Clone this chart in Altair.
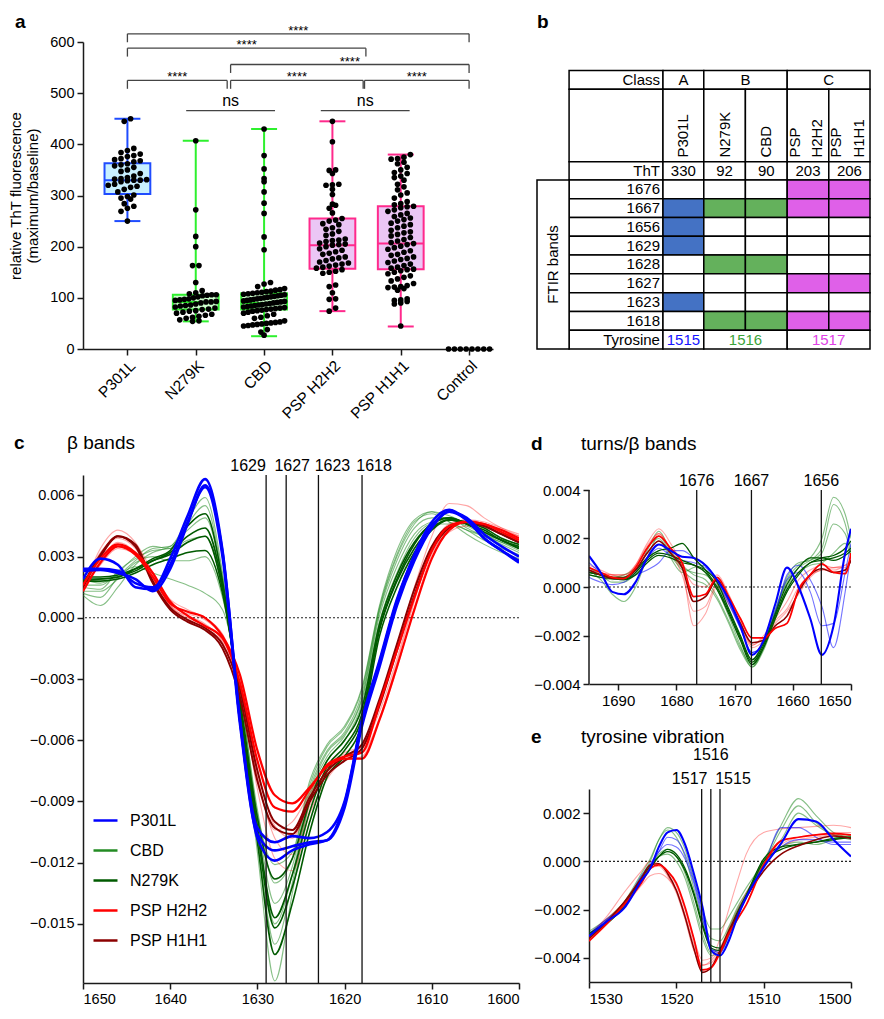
import json
import altair as alt

FONT = "Liberation Sans"
INK = "#1a1a1a"

# ======================= panel a : ThT fluorescence =======================
CATS = ["P301L", "N279K", "CBD", "PSP H2H2", "PSP H1H1", "Control"]
PTS_P301L = [450, 445, 392, 388, 384, 381, 378, 376, 372, 370, 368, 366, 362, 360, 358, 355, 350, 347,
             343, 338, 335, 333, 332, 331, 330, 330, 329, 327, 322, 320, 318, 316, 312, 307, 301, 298,
             295, 293, 284, 279, 275, 269, 250]
PTS_N279K = [407, 272, 220, 200, 163, 163, 130, 114, 110, 108, 106, 106, 105, 104, 102, 100, 98, 97, 96,
             95, 93, 92, 92, 90, 88, 86, 85, 84, 82, 80, 78, 77, 75, 74, 72, 70, 68, 66, 64, 62, 60, 57,
             55, 54]
PTS_CBD = [430, 378, 352, 333, 327, 307, 285, 265, 219, 194, 130, 127, 122, 118, 116, 115, 113, 112, 111,
           110, 109, 108, 107, 106, 105, 104, 103, 102, 101, 100, 99, 98, 97, 96, 95, 94, 93, 92, 91, 90,
           89, 88, 87, 86, 85, 84, 83, 82, 81, 80, 79, 78, 77, 76, 75, 74, 72, 70, 68, 65, 62, 60, 55,
           53, 52, 51, 50, 49, 48, 47, 46, 45, 38, 33, 27]
PTS_H2H2 = [445, 405, 350, 349, 343, 322, 321, 320, 312, 302, 283, 281, 275, 266, 255, 252, 250, 245, 243,
            237, 234, 230, 225, 222, 215, 213, 212, 210, 207, 205, 204, 203, 200, 196, 193, 190, 187, 185,
            180, 178, 176, 173, 170, 168, 166, 164, 162, 160, 158, 155, 152, 150, 148, 125, 122, 110, 98,
            97, 80, 74]
PTS_H1H1 = [380, 375, 372, 371, 365, 362, 355, 350, 345, 343, 338, 335, 330, 322, 317, 311, 305, 301, 295,
            288, 284, 282, 279, 278, 276, 272, 269, 265, 262, 259, 256, 253, 250, 246, 243, 240, 237, 232,
            229, 227, 224, 221, 218, 214, 211, 208, 206, 204, 201, 198, 195, 192, 189, 185, 183, 180, 177,
            175, 172, 169, 166, 163, 160, 158, 156, 155, 153, 150, 147, 143, 140, 137, 133, 128, 124, 122,
            121, 120, 118, 115, 98, 96, 95, 93, 90, 88, 45]
PTS_CONTROL = [0, 0, 0, 0, 0, 0, 0, 0]

BOX_MIN = [250, 54, 25, 74, 44]
BOX_Q1 = [303, 77, 77, 157, 156]
BOX_MED = [330, 92, 90, 203, 206]
BOX_Q3 = [363, 106, 109, 255, 279]
BOX_MAX = [450, 407, 430, 445, 380]
BOX_STROKE = ["#1f4cff", "#2ef02e", "#2ef02e", "#ff2a8c", "#ff2a8c"]
BOX_FILL = ["#c8f0ff", "#ccffcc", "#ccffcc", "#ebc6f5", "#ebc6f5"]

BR_FROM = [0, 0, 1.51, 0, 1.51, 3.47]
BR_TO = [5, 3.49, 5, 1.46, 3.45, 5]
BR_LEVEL = [616, 588, 556, 525, 525, 525]
BR_TEXT = ["****", "****", "****", "****", "****", "****"]
NS_FROM = [0.86, 2.83]
NS_TO = [2.16, 4.13]
NS_LEVEL = [466, 466]

# ======================= panel b : table =======================
TBL_COL_W = [32.7, 95.7, 41.6, 42.4, 42.6, 42.4, 42.0]
TBL_ROW_H = [1.0, 3.86, 0.965, 1, 1, 1, 1, 1, 1, 1, 1, 1]
TBL_SAMPLES = [["P301L"], ["N279K"], ["CBD"], ["PSP", "H2H2"], ["PSP", "H1H1"]]
TBL_CLASSES = ["A", "B", "C"]
TBL_SAMPLE_CLASS = [0, 1, 1, 2, 2]
TBL_THT = ["330", "92", "90", "203", "206"]
TBL_BANDS = ["1676", "1667", "1656", "1629", "1628", "1627", "1623", "1618"]
TBL_MARKS = [  # one list per sample, one flag per FTIR band
    [0, 1, 1, 1, 0, 0, 1, 0],
    [0, 1, 0, 0, 1, 0, 0, 1],
    [0, 1, 0, 0, 1, 0, 0, 1],
    [1, 1, 0, 0, 0, 1, 0, 1],
    [1, 1, 0, 0, 0, 1, 0, 1],
]
TBL_TYROSINE = ["1515", "1516", "1517"]
CLASS_FILL = ["#4472c4", "#64b15c", "#df60e8"]
TYR_COLOR = ["#1414ff", "#3aa33a", "#e040e6"]

# ======================= panel c : beta bands (x 1e-3) =======================
XC = list(range(1650, 1599, -2))
C_P301L_1 = [1.9, 2.9, 2.6, 1.5, 1.4, 2.9, 5.0, 6.8, 3.3, -5.0, -10.3, -11.0, -10.7, -10.8, -10.5, -9.0, -5.0, -2.1, 0.9, 3.0, 4.5, 5.2, 4.8, 3.9, 3.3, 2.8]
C_P301L_2 = [2.4, 2.4, 2.3, 1.7, 1.5, 2.6, 4.7, 6.4, 3.0, -5.2, -10.6, -11.4, -11.2, -11.0, -10.9, -9.3, -5.3, -2.4, 0.6, 2.8, 4.4, 5.2, 4.9, 4.1, 3.5, 3.0]
C_P301L_3 = [2.3, 2.35, 2.2, 1.9, 1.3, 2.4, 4.6, 6.5, 3.2, -5.0, -10.8, -11.9, -11.4, -11.1, -10.9, -9.1, -5.1, -2.2, 0.8, 3.1, 4.7, 5.3, 4.8, 3.9, 3.3, 2.7]
C_N279K_1 = [1.9, 1.9, 2.0, 2.4, 2.9, 3.3, 4.5, 5.1, 1.8, -4.5, -11.0, -16.5, -14.0, -10.5, -7.8, -6.8, -5.2, -0.9, 1.5, 3.2, 4.3, 4.8, 4.7, 4.4, 3.9, 3.6]
C_N279K_2 = [1.8, 1.9, 2.0, 2.3, 2.8, 3.2, 4.0, 4.4, 1.6, -4.3, -10.5, -15.2, -13.2, -10.0, -7.5, -6.5, -4.9, -0.6, 1.8, 3.4, 4.4, 4.8, 4.6, 4.3, 3.8, 3.5]
C_N279K_3 = [2.0, 2.0, 2.1, 2.4, 2.8, 3.1, 3.7, 4.0, 1.4, -4.2, -10.2, -14.7, -12.6, -9.5, -7.3, -6.3, -4.7, -0.5, 1.9, 3.6, 4.6, 4.9, 4.6, 4.2, 3.8, 3.4]
C_N279K_4 = [1.8, 1.8, 1.9, 2.2, 2.6, 2.9, 3.2, 3.3, 1.2, -4.0, -9.8, -12.8, -11.8, -9.0, -7.0, -6.0, -4.4, -0.3, 2.1, 3.7, 4.6, 4.9, 4.6, 4.2, 3.8, 3.4]
C_CBD_1 = [1.2, 1.0, 2.0, 2.8, 3.4, 3.5, 4.8, 5.9, 2.2, -4.6, -11.5, -17.8, -13.5, -9.0, -7.0, -6.0, -4.2, -0.2, 2.2, 3.9, 4.6, 4.6, 4.3, 4.0, 3.7, 3.4]
C_CBD_2 = [1.5, 1.4, 2.3, 2.9, 3.3, 3.4, 4.6, 5.5, 2.0, -4.4, -10.8, -16.0, -13.0, -8.8, -6.8, -5.8, -4.0, 0.1, 2.5, 4.1, 4.7, 4.8, 4.5, 4.1, 3.8, 3.5]
C_CBD_3 = [1.1, 0.6, 1.5, 2.6, 3.2, 3.5, 4.3, 4.9, 1.8, -4.2, -10.2, -15.0, -12.6, -8.6, -6.6, -5.7, -3.9, 0.3, 2.8, 4.4, 4.9, 4.9, 4.4, 4.0, 3.6, 3.2]
C_CBD_4 = [1.6, 1.6, 2.2, 3.0, 3.5, 3.4, 3.8, 4.0, 1.4, -4.0, -9.8, -14.0, -12.2, -8.4, -6.5, -5.6, -3.7, 0.4, 3.0, 4.6, 5.2, 5.0, 4.6, 4.1, 3.7, 3.3]
C_CBD_5 = [1.3, 1.3, 1.9, 2.7, 3.0, 2.8, 2.8, 3.0, 1.0, -3.6, -9.4, -13.0, -11.8, -8.2, -6.3, -5.4, -3.5, 0.5, 3.1, 4.7, 5.1, 4.7, 4.3, 3.8, 3.4, 3.1]
C_CBD_6 = [1.9, 1.7, 2.1, 2.5, 2.2, 1.9, 1.6, 1.2, 0.4, -3.5, -9.6, -12.1, -11.5, -8.0, -6.2, -5.3, -3.4, 0.6, 3.3, 4.8, 5.2, 4.7, 4.1, 3.6, 3.2, 2.9]
C_H2H2_1 = [1.3, 2.7, 3.5, 3.1, 2.0, 0.7, 0.3, 0.0, -0.9, -2.8, -6.5, -8.7, -9.1, -8.3, -7.3, -6.9, -6.9, -5.0, -2.4, 0.4, 2.9, 4.3, 4.7, 4.6, 4.3, 3.9]
C_H2H2_2 = [1.6, 2.9, 3.6, 3.2, 2.2, 0.8, 0.1, -0.4, -1.0, -3.2, -7.0, -9.3, -9.5, -8.4, -7.2, -6.8, -6.6, -4.2, -1.6, 1.0, 3.3, 4.5, 4.7, 4.6, 4.2, 3.8]
C_H1H1_1 = [1.5, 3.0, 4.0, 3.6, 1.8, 0.5, -0.1, -0.5, -1.3, -3.5, -7.5, -10.0, -10.4, -8.8, -7.5, -6.8, -6.2, -4.0, -1.3, 1.4, 3.5, 4.5, 4.7, 4.5, 4.1, 3.7]
C_H1H1_2 = [1.6, 3.1, 4.0, 3.5, 1.7, 0.4, -0.2, -0.6, -1.5, -3.9, -8.0, -10.3, -10.6, -9.0, -7.7, -7.0, -6.4, -4.3, -1.6, 1.1, 3.3, 4.4, 4.7, 4.5, 4.1, 3.7]
C_H2H2_R1 = [1.4, 3.4, 4.3, 3.7, 2.2, 0.6, 0.2, -0.1, -1.0, -3.3, -7.8, -10.8, -11.6, -9.2, -7.6, -6.8, -6.4, -4.4, -1.5, 1.5, 4.0, 5.6, 5.5, 4.9, 4.4, 4.0]
C_H2H2_R2 = [1.5, 2.6, 3.4, 3.1, 2.1, 0.9, 0.4, 0.0, -0.8, -3.0, -7.4, -10.2, -10.8, -8.9, -7.4, -6.7, -6.6, -4.9, -2.2, 0.8, 3.4, 4.6, 4.8, 4.6, 4.3, 4.0]
C_H2H2_R3 = [1.3, 2.8, 3.7, 3.2, 1.9, 0.5, 0.1, -0.3, -1.2, -3.6, -8.4, -11.8, -12.4, -9.6, -7.9, -7.0, -6.8, -5.0, -2.5, 0.5, 3.1, 4.4, 4.8, 4.7, 4.4, 4.1]
C_H2H2_R4 = [1.6, 3.2, 3.9, 3.4, 2.0, 0.6, 0.0, -0.4, -1.1, -3.4, -7.9, -10.4, -10.0, -8.6, -7.3, -6.6, -6.3, -4.6, -2.0, 0.9, 3.2, 4.2, 4.5, 4.5, 4.2, 3.9]

# ======================= panel d : turns / beta (x 1e-3) =======================
XD = [1695, 1693, 1691, 1689, 1687, 1685, 1683, 1681, 1679, 1677, 1675, 1673, 1671, 1669, 1667, 1665,
      1663, 1661, 1659, 1657, 1655, 1653, 1651, 1650]
D_P301L_1 = [1.28, 0.6, -0.2, -0.3, 0.2, 1.2, 1.75, 1.5, 1.25, 1.2, 0.9, 0.3, -0.5, -1.6, -2.8, -2.2, -0.7, 0.8, 0.0, -1.3, -2.8, -1.6, 1.4, 2.4]
D_P301L_2 = [1.0, 0.6, 0.35, 0.3, 0.5, 0.7, 1.0, 1.5, 1.5, 1.2, 0.9, 0.3, -0.6, -1.7, -2.7, -2.3, -1.0, 0.3, 0.6, -0.2, -1.6, -1.5, 0.6, 1.8]
D_P301L_3 = [0.4, 0.2, 0.1, 0.2, 0.6, 1.2, 1.6, 1.3, 1.1, 1.0, 0.8, 0.2, -0.7, -1.7, -2.7, -2.3, -1.1, 0.5, 0.9, 0.3, -0.8, -2.5, -0.2, 1.4]
D_N279K_1 = [0.6, 0.5, 0.4, 0.4, 0.7, 1.2, 1.5, 1.6, 1.8, 1.2, 0.7, 0.0, -1.0, -2.1, -3.1, -2.4, -1.2, -0.1, 0.6, 1.0, 1.2, 1.3, 1.6, 1.9]
D_N279K_2 = [0.5, 0.4, 0.35, 0.3, 0.6, 1.1, 1.4, 1.3, 1.1, 0.9, 0.6, -0.1, -1.1, -2.2, -3.2, -2.5, -1.3, -0.2, 0.5, 1.0, 1.1, 1.2, 1.4, 1.6]
D_N279K_3 = [0.6, 0.5, 0.4, 0.3, 0.5, 1.0, 1.3, 1.2, 1.0, 0.9, 0.7, 0.2, -0.9, -2.0, -3.0, -2.3, -1.1, 0.1, 0.8, 1.2, 1.2, 1.1, 1.3, 1.5]
D_CBD_1 = [0.7, 0.3, -0.3, -0.6, 0.0, 1.2, 2.1, 1.4, 0.8, 0.6, 0.5, -0.1, -1.2, -2.4, -3.3, -2.5, -1.1, 0.3, 0.9, 1.2, 2.0, 3.7, 3.0, 2.0]
D_CBD_2 = [0.8, 0.5, 0.2, 0.2, 0.6, 1.5, 2.3, 1.5, 0.9, 0.5, 0.3, -0.4, -1.4, -2.5, -3.2, -2.4, -1.0, 0.2, 0.8, 1.1, 1.6, 3.4, 2.6, 1.5]
D_CBD_3 = [0.5, 0.4, 0.3, 0.4, 0.7, 1.4, 1.9, 1.2, 0.6, 0.8, 0.9, 0.1, -1.0, -2.1, -3.0, -2.2, -0.9, 0.4, 1.0, 1.1, 1.4, 2.6, 2.2, 1.3]
D_CBD_4 = [0.6, 0.5, 0.4, 0.5, 0.8, 1.6, 2.0, 1.3, 0.7, 0.3, 0.1, -0.5, -1.5, -2.6, -3.3, -2.6, -1.3, 0.0, 0.6, 0.9, 1.0, 1.4, 1.8, 1.2]
D_H2H2_1 = [0.8, 0.6, 0.4, 0.35, 0.8, 1.6, 2.1, 1.6, 1.0, -0.4, -0.3, 0.4, -0.4, -1.3, -2.1, -2.1, -1.7, -1.5, -0.1, 0.5, 0.95, 0.6, 0.55, 1.4]
D_H1H1_1 = [0.7, 0.5, 0.35, 0.35, 0.7, 1.4, 1.9, 1.4, 0.8, -0.6, -0.4, 0.3, -0.5, -1.5, -2.3, -2.2, -1.6, -1.2, -0.2, 0.5, 0.75, 0.6, 0.7, 1.1]
D_H2H2_R1 = [0.9, 0.7, 0.5, 0.4, 0.9, 1.8, 2.4, 1.8, 0.8, -1.6, -1.1, 0.0, -0.7, -1.6, -2.5, -2.2, -1.4, -0.9, 0.0, 0.5, 0.7, 0.8, 0.9, 1.0]
D_H2H2_R2 = [0.7, 0.6, 0.5, 0.5, 0.9, 1.7, 2.2, 1.5, 0.5, -1.0, -0.8, 0.1, -0.6, -1.5, -2.4, -2.1, -1.5, -1.0, -0.3, 0.4, 0.7, 0.7, 0.9, 1.1]
D_H2H2_R3 = [0.8, 0.6, 0.5, 0.5, 0.8, 1.6, 2.2, 1.6, 0.9, 0.1, 0.0, 0.5, -0.3, -1.4, -2.4, -2.0, -1.3, -0.6, 0.3, 0.7, 0.9, 0.8, 0.8, 1.2]

# ======================= panel e : tyrosine (x 1e-3) =======================
XE = [1530, 1528, 1526, 1524, 1523, 1522, 1521, 1520, 1519, 1518, 1517, 1516, 1515, 1514, 1513, 1512,
      1510, 1508, 1506, 1504, 1502, 1500]
E_P301L_1 = [-3.1, -2.5, -1.95, -0.8, -0.3, 0.6, 1.2, 1.3, 0.7, -0.5, -1.9, -3.7, -3.9, -3.3, -2.3, -1.5, -0.25, 0.75, 1.75, 1.65, 0.9, 0.2]
E_P301L_2 = [-3.0, -2.5, -1.9, -0.7, -0.2, 0.4, 1.0, 0.9, 0.3, -0.8, -2.2, -3.6, -3.8, -3.1, -2.2, -1.5, -0.2, 1.4, 1.4, 1.0, 0.7, 0.7]
E_P301L_3 = [-3.0, -2.4, -1.8, -0.6, -0.1, 0.4, 0.7, 0.6, 0.1, -0.9, -2.4, -3.7, -3.7, -3.0, -2.1, -1.4, -0.2, 0.6, 0.9, 0.9, 0.8, 0.8]
E_N279K_1 = [-3.1, -2.6, -1.9, -0.8, -0.3, 0.2, 0.5, 0.3, -0.3, -1.3, -2.6, -3.5, -3.6, -2.9, -2.1, -1.4, 0.1, 0.6, 0.7, 0.8, 0.95, 1.0]
E_N279K_2 = [-3.0, -2.5, -1.8, -0.7, -0.2, 0.2, 0.4, 0.2, -0.4, -1.4, -2.7, -3.6, -3.7, -3.0, -2.2, -1.5, 0.0, 0.5, 0.7, 0.8, 0.9, 1.0]
E_CBD_1 = [-3.2, -2.6, -1.8, -0.6, 0.0, 0.9, 1.4, 1.2, 0.5, -0.7, -2.0, -2.8, -2.8, -2.3, -1.7, -1.1, 0.0, 1.5, 2.6, 1.9, 1.2, 1.0]
E_CBD_2 = [-3.1, -2.5, -1.7, -0.5, 0.1, 0.9, 1.3, 1.0, 0.2, -1.1, -2.4, -3.2, -3.3, -2.7, -1.9, -1.3, -0.1, 1.3, 2.3, 1.6, 1.1, 0.9]
E_CBD_3 = [-2.9, -2.4, -1.7, -0.7, -0.2, 0.3, 0.5, 0.2, -0.5, -1.7, -3.0, -3.8, -3.6, -2.8, -2.0, -1.4, 0.1, 0.9, 2.0, 1.5, 1.1, 1.0]
E_CBD_4 = [-3.0, -2.5, -1.8, -0.8, -0.3, 0.2, 0.3, 0.0, -0.7, -1.9, -3.2, -3.9, -3.8, -3.1, -2.3, -1.5, -0.1, 0.6, 0.8, 0.7, 0.9, 1.1]
E_H2H2_1 = [-3.3, -2.6, -1.8, -0.9, -0.3, -0.15, -0.4, -0.9, -1.9, -3.2, -4.5, -4.4, -3.8, -3.0, -2.4, -1.8, -0.15, 0.85, 1.0, 1.1, 1.15, 1.1]
E_H1H1_1 = [-3.2, -2.5, -1.7, -0.7, -0.15, -0.1, -0.5, -1.2, -2.3, -3.6, -4.6, -4.4, -3.7, -2.9, -2.2, -1.5, -0.4, 0.3, 0.65, 0.9, 1.05, 0.95]
E_H2H2_R1 = [-3.1, -2.3, -1.3, -0.4, 0.0, -0.1, -0.4, -1.0, -2.0, -3.2, -4.1, -4.0, -3.2, -2.0, -0.8, 0.3, 1.2, 1.35, 1.4, 1.45, 1.5, 1.4]
E_H2H2_R2 = [-3.2, -2.6, -1.9, -1.0, -0.6, -0.5, -0.7, -1.2, -2.2, -3.4, -4.3, -4.2, -3.7, -2.9, -2.1, -1.4, 0.0, 0.6, 0.9, 1.0, 1.1, 1.1]
E_H2H2_R3 = [-3.0, -2.4, -1.7, -0.7, -0.3, -0.2, -0.6, -1.3, -2.4, -3.7, -4.3, -4.1, -3.6, -2.8, -2.0, -1.3, -0.1, 0.7, 1.0, 1.1, 1.2, 1.2]

LEG_NAMES = ["P301L", "CBD", "N279K", "PSP H2H2", "PSP H1H1"]
LEG_COLORS = ["#0000ff", "#238b23", "#005a00", "#ff0000", "#8b0000"]

# ======================= layout / style constants =======================
A_W, A_H = 410, 307
B_W = 333
C_W, C_H = 436, 508
D_W, D_EXTRA, D_CORE = 262, 15, 194
E_H = 193
ROW_GAP = 12          # full-bounds gap between the two rows
TOP_PAD = 5
XA_DOM = [-0.65, 5.35]
DOT_PX = 6.4
BOX_HALF, CAP_HALF = 0.335, 0.19
ROT_LINE_DX = [[0.0], [-13.5, 9.5]]   # x offset (table units) of rotated header lines


def swarm(vals, center):
    step = DOT_PX / (A_W / (XA_DOM[1] - XA_DOM[0]))
    bin_units = DOT_PX / (A_H / 600.0)
    bins = {}
    for v in sorted(vals):
        bins.setdefault(round(v / bin_units), []).append(v)
    out = []
    for vs in bins.values():
        k = len(vs)
        st = step if k < 2 else min(step, 0.6 / (k - 1))
        for j, v in enumerate(vs):
            out.append({"x": center + (j - (k - 1) / 2.0) * st, "y": v})
    return out


def letter_layer(txt, x, y, size=19, weight="bold"):
    return alt.Chart(alt.Data(values=[{"t": txt}])).mark_text(
        align="left", baseline="alphabetic", fontSize=size, fontWeight=weight
    ).encode(x=alt.value(x), y=alt.value(y), text="t:N")


# ----------------------------- panel a -----------------------------
xa_scale = alt.Scale(domain=XA_DOM, nice=False, zero=False)
ya_scale = alt.Scale(domain=[0, 600], nice=False, zero=False)
xa_axis = alt.Axis(values=list(range(6)), labelExpr=json.dumps(CATS) + "[datum.value]", labelAngle=315,
                   labelFontSize=15.5, tickSize=6, title=None, grid=False, labelPadding=3)
ya_axis = alt.Axis(values=list(range(0, 601, 100)), title=["relative ThT fluorescence", "(maximum/baseline)"],
                   titleFontSize=15, titleFontWeight="normal", titlePadding=9, labelFontSize=14.5,
                   tickSize=6, grid=False, labelPadding=3)


def XA(f):
    return alt.X(f + ":Q", scale=xa_scale, axis=xa_axis)


def YA(f):
    return alt.Y(f + ":Q", scale=ya_scale, axis=ya_axis)


box_rows = []
cap_rows = []
for i in range(5):
    box_rows.append({"x": i, "bx1": i - BOX_HALF, "bx2": i + BOX_HALF, "mn": BOX_MIN[i], "q1": BOX_Q1[i],
                     "med": BOX_MED[i], "q3": BOX_Q3[i], "mx": BOX_MAX[i], "stroke": BOX_STROKE[i],
                     "fill": BOX_FILL[i]})
    for v in (BOX_MIN[i], BOX_MAX[i]):
        cap_rows.append({"x1": i - CAP_HALF, "x2": i + CAP_HALF, "y": v, "stroke": BOX_STROKE[i]})
dot_rows = []
for i, vals in enumerate([PTS_P301L, PTS_N279K, PTS_CBD, PTS_H2H2, PTS_H1H1, PTS_CONTROL]):
    dot_rows += swarm(vals, i)
br_rows, drop_rows = [], []
for a, b, lv, t in zip(BR_FROM, BR_TO, BR_LEVEL, BR_TEXT):
    br_rows.append({"x1": a, "x2": b, "xm": (a + b) / 2.0, "lv": lv, "t": t})
    for e in (a, b):
        drop_rows.append({"x": e, "lv": lv, "lo": lv - 16.5})
ns_rows = [{"x1": a, "x2": b, "xm": (a + b) / 2.0, "lv": lv, "t": "ns"}
           for a, b, lv in zip(NS_FROM, NS_TO, NS_LEVEL)]

bstroke = alt.Color("stroke:N", scale=None)
panel_a = alt.layer(
    alt.Chart(alt.Data(values=box_rows)).mark_rule(strokeWidth=2).encode(x=XA("x"), y=YA("mn"), y2="mx", color=bstroke),
    alt.Chart(alt.Data(values=cap_rows)).mark_rule(strokeWidth=2).encode(x=XA("x1"), x2="x2", y=YA("y"), color=bstroke),
    alt.Chart(alt.Data(values=box_rows)).mark_rect(strokeWidth=2).encode(
        x=XA("bx1"), x2="bx2", y=YA("q1"), y2="q3", fill=alt.Fill("fill:N", scale=None),
        stroke=alt.Stroke("stroke:N", scale=None)),
    alt.Chart(alt.Data(values=box_rows)).mark_rule(strokeWidth=2).encode(x=XA("bx1"), x2="bx2", y=YA("med"), color=bstroke),
    alt.Chart(alt.Data(values=dot_rows)).mark_circle(size=32, color="black", opacity=1).encode(x=XA("x"), y=YA("y")),
    alt.Chart(alt.Data(values=br_rows)).mark_rule(color="#444444", strokeWidth=1.3).encode(x=XA("x1"), x2="x2", y=YA("lv")),
    alt.Chart(alt.Data(values=drop_rows)).mark_rule(color="#444444", strokeWidth=1.3).encode(x=XA("x"), y=YA("lv"), y2="lo"),
    alt.Chart(alt.Data(values=br_rows)).mark_text(fontSize=13, baseline="alphabetic", dy=1).encode(
        x=XA("xm"), y=YA("lv"), text="t:N"),
    alt.Chart(alt.Data(values=ns_rows)).mark_rule(color="#444444", strokeWidth=1.3).encode(x=XA("x1"), x2="x2", y=YA("lv")),
    alt.Chart(alt.Data(values=ns_rows)).mark_text(fontSize=16, baseline="alphabetic", dy=-5).encode(
        x=XA("xm"), y=YA("lv"), text="t:N"),
    letter_layer("a", -68, -14),
).properties(width=A_W, height=A_H)

# ----------------------------- panel b -----------------------------
CX = [0.0]
for w in TBL_COL_W:
    CX.append(CX[-1] + w)
RY = [0.0]
for h in TBL_ROW_H:
    RY.append(RY[-1] + h)
px_unit = A_H * (281.3 / 310.0) / RY[-1]
TOP_OFF = A_H / px_unit - RY[-1]
xb_scale = alt.Scale(domain=[0, CX[-1]], nice=False, zero=False)
yb_scale = alt.Scale(domain=[-TOP_OFF, RY[-1]], nice=False, zero=False, reverse=True)


def XB(f):
    return alt.X(f + ":Q", scale=xb_scale, axis=None)


def YB(f):
    return alt.Y(f + ":Q", scale=yb_scale, axis=None)


def cell(c0, c1, r0, r1, fill="white"):
    return {"x1": CX[c0], "x2": CX[c1], "y1": RY[r0], "y2": RY[r1], "fill": fill}


def mid_r(r):
    return (RY[r] + RY[r + 1]) / 2.0


def mid_c(c0, c1):
    return (CX[c0] + CX[c1]) / 2.0


class_span = {}
for j, k in enumerate(TBL_SAMPLE_CLASS):
    lo, hi = class_span.get(k, (j, j))
    class_span[k] = (min(lo, j), max(hi, j))

cells, right_txt, center_txt, rot_txt = [], [], [], []
cells.append(cell(1, 2, 0, 1))
right_txt.append({"x": CX[2], "y": mid_r(0), "t": "Class"})
for k, (lo, hi) in class_span.items():
    cells.append(cell(2 + lo, 3 + hi, 0, 1))
    center_txt.append({"x": mid_c(2 + lo, 3 + hi), "y": mid_r(0), "t": TBL_CLASSES[k], "c": "black"})
cells.append(cell(1, 2, 1, 2))
cells.append(cell(1, 2, 2, 3))
right_txt.append({"x": CX[2], "y": mid_r(2), "t": "ThT"})
for j, name_lines in enumerate(TBL_SAMPLES):
    cells.append(cell(2 + j, 3 + j, 1, 2))
    for ln, dx in zip(name_lines, ROT_LINE_DX[len(name_lines) - 1]):
        rot_txt.append({"x": mid_c(2 + j, 3 + j) + dx, "y": RY[2] - 0.22, "t": ln})
    cells.append(cell(2 + j, 3 + j, 2, 3))
    center_txt.append({"x": mid_c(2 + j, 3 + j), "y": mid_r(2), "t": TBL_THT[j], "c": "black"})
for bi, band in enumerate(TBL_BANDS):
    r = 3 + bi
    cells.append(cell(1, 2, r, r + 1))
    right_txt.append({"x": CX[2], "y": mid_r(r), "t": band})
    for j in range(5):
        fill = CLASS_FILL[TBL_SAMPLE_CLASS[j]] if TBL_MARKS[j][bi] else "white"
        cells.append(cell(2 + j, 3 + j, r, r + 1, fill))
rt = 3 + len(TBL_BANDS)
cells.append(cell(1, 2, rt, rt + 1))
right_txt.append({"x": CX[2], "y": mid_r(rt), "t": "Tyrosine"})
for k, (lo, hi) in class_span.items():
    cells.append(cell(2 + lo, 3 + hi, rt, rt + 1))
    center_txt.append({"x": mid_c(2 + lo, 3 + hi), "y": mid_r(rt), "t": TBL_TYROSINE[k], "c": TYR_COLOR[k]})
cells.append(cell(0, 1, 3, rt + 1))
ftir_txt = [{"x": mid_c(0, 1), "y": (RY[3] + RY[rt + 1]) / 2.0, "t": "FTIR bands"}]

panel_b = alt.layer(
    alt.Chart(alt.Data(values=cells)).mark_rect(stroke="black", strokeWidth=1.5).encode(
        x=XB("x1"), x2="x2", y=YB("y1"), y2="y2", fill=alt.Fill("fill:N", scale=None)),
    alt.Chart(alt.Data(values=right_txt)).mark_text(align="right", baseline="middle", dx=-3, fontSize=15).encode(
        x=XB("x"), y=YB("y"), text="t:N"),
    alt.Chart(alt.Data(values=center_txt)).mark_text(align="center", baseline="middle", fontSize=15).encode(
        x=XB("x"), y=YB("y"), text="t:N", color=alt.Color("c:N", scale=None)),
    alt.Chart(alt.Data(values=rot_txt)).mark_text(angle=270, align="left", baseline="middle", fontSize=15).encode(
        x=XB("x"), y=YB("y"), text="t:N"),
    alt.Chart(alt.Data(values=ftir_txt)).mark_text(angle=270, align="center", baseline="middle", fontSize=15).encode(
        x=XB("x"), y=YB("y"), text="t:N"),
    letter_layer("b", 0, -14),
).properties(width=B_W, height=A_H)

# ----------------------------- spectra -----------------------------
THICK_W = {"P301L": 2.6, "N279K": 1.6, "CBD": 1.6, "PSP H2H2": 2.2, "PSP H1H1": 2.0}
THIN_W = 1.1
THIN_OP = {"P301L": 0.55, "N279K": 0.5, "CBD": 0.55, "PSP H2H2": 0.35, "PSP H1H1": 0.4}


def spectral_panel(xgrid, curves, xdom, ydom, vrange, xticks, yticks, W, H, vlines, vlabels, lab_dx, lab_y,
                   title, letter, head_x, head_y, fs, width_scale=1.0, legend=None, manual_axis=None):
    xs = alt.Scale(domain=xdom, reverse=True, nice=False, zero=False)
    ys = alt.Scale(domain=ydom, nice=False, zero=False)
    xax = alt.Axis(values=xticks, format="d", labelFontSize=fs, tickSize=6, title=None, grid=False,
                   labelPadding=3)
    yax = alt.Axis(values=yticks, format=".3f", labelFontSize=fs, tickSize=6, title=None, grid=False,
                   labelPadding=3, domain=manual_axis is None)

    def X(f):
        return alt.X(f + ":Q", scale=xs, axis=xax)

    def Y(f):
        return alt.Y(f + ":Q", scale=ys, axis=yax)

    thick, thin = [], []
    for cid, (series, kind, vals) in enumerate(curves):
        for wn, v in zip(xgrid, vals):
            row = {"wn": wn, "v": v * 1e-3, "cid": cid, "series": series}
            if kind == "thick":
                row["w"] = THICK_W[series] * width_scale
                row["op"] = 1.0
                thick.append(row)
            else:
                row["w"] = THIN_W
                row["op"] = THIN_OP[series]
                thin.append(row)
    color = alt.Color("series:N", scale=alt.Scale(domain=LEG_NAMES, range=LEG_COLORS), legend=legend)

    def lines(rows):
        return alt.Chart(alt.Data(values=rows)).mark_line(interpolate="monotone", clip=True).encode(
            x=X("wn"), y=Y("v"), detail="cid:N", color=color,
            strokeWidth=alt.StrokeWidth("w:Q", scale=None), opacity=alt.Opacity("op:Q", scale=None))

    layers = [
        alt.Chart(alt.Data(values=[{"z": 0}])).mark_rule(strokeDash=[2, 2], color="#222222", strokeWidth=1.1).encode(y=Y("z")),
        lines(thin),
        lines(thick),
        alt.Chart(alt.Data(values=[{"p": p, "lo": vrange[0], "hi": vrange[1]} for p in vlines])).mark_rule(
            color="#111111", strokeWidth=1.3).encode(x=X("p"), y=Y("lo"), y2="hi"),
    ]
    if manual_axis is not None:
        layers.append(alt.Chart(alt.Data(values=[{"p": manual_axis[0], "lo": manual_axis[1], "hi": manual_axis[2]}])).mark_rule(
            color=INK, strokeWidth=1.5).encode(x=X("p"), y=Y("lo"), y2="hi"))
    for p, t, dx, yy in zip(vlines, vlabels, lab_dx, lab_y):
        layers.append(alt.Chart(alt.Data(values=[{"p": p, "t": t}])).mark_text(
            fontSize=16, baseline="alphabetic", align="center", dx=dx).encode(x=X("p"), y=alt.value(yy), text="t:N"))
    layers.append(letter_layer(letter, head_x[0], head_y))
    layers.append(letter_layer(title, head_x[1], head_y, size=19, weight="normal"))
    return alt.layer(*layers).properties(width=W, height=H)


CURVES_C = [
    ("CBD", "thin", C_CBD_1), ("CBD", "thin", C_CBD_2), ("CBD", "thin", C_CBD_3),
    ("CBD", "thin", C_CBD_4), ("CBD", "thin", C_CBD_5), ("CBD", "thin", C_CBD_6),
    ("PSP H2H2", "thin", C_H2H2_R1), ("PSP H2H2", "thin", C_H2H2_R2),
    ("PSP H2H2", "thin", C_H2H2_R3), ("PSP H2H2", "thin", C_H2H2_R4),
    ("N279K", "thick", C_N279K_1), ("N279K", "thick", C_N279K_2),
    ("N279K", "thick", C_N279K_3), ("N279K", "thick", C_N279K_4),
    ("PSP H1H1", "thick", C_H1H1_1), ("PSP H1H1", "thick", C_H1H1_2),
    ("PSP H2H2", "thick", C_H2H2_1), ("PSP H2H2", "thick", C_H2H2_2),
    ("P301L", "thick", C_P301L_1), ("P301L", "thick", C_P301L_2), ("P301L", "thick", C_P301L_3),
]
CURVES_D = [
    ("CBD", "thin", D_CBD_1), ("CBD", "thin", D_CBD_2), ("CBD", "thin", D_CBD_3), ("CBD", "thin", D_CBD_4),
    ("PSP H2H2", "thin", D_H2H2_R1), ("PSP H2H2", "thin", D_H2H2_R2), ("PSP H2H2", "thin", D_H2H2_R3),
    ("P301L", "thin", D_P301L_2), ("P301L", "thin", D_P301L_3),
    ("N279K", "thick", D_N279K_1), ("N279K", "thick", D_N279K_2), ("N279K", "thick", D_N279K_3),
    ("PSP H1H1", "thick", D_H1H1_1), ("PSP H2H2", "thick", D_H2H2_1), ("P301L", "thick", D_P301L_1),
]
CURVES_E = [
    ("CBD", "thin", E_CBD_1), ("CBD", "thin", E_CBD_2), ("CBD", "thin", E_CBD_3), ("CBD", "thin", E_CBD_4),
    ("PSP H2H2", "thin", E_H2H2_R1), ("PSP H2H2", "thin", E_H2H2_R2), ("PSP H2H2", "thin", E_H2H2_R3),
    ("P301L", "thin", E_P301L_2), ("P301L", "thin", E_P301L_3),
    ("N279K", "thick", E_N279K_1), ("N279K", "thick", E_N279K_2),
    ("PSP H1H1", "thick", E_H1H1_1), ("PSP H2H2", "thick", E_H2H2_1), ("P301L", "thick", E_P301L_1),
]

legend_c = alt.Legend(orient="none", legendX=9, legendY=332, title=None, symbolType="stroke",
                      symbolStrokeWidth=2.5, symbolSize=576, labelFontSize=16, labelFont=FONT,
                      rowPadding=8, labelOffset=11, padding=0)

panel_c = spectral_panel(
    XC, CURVES_C, [1600, 1650], [-0.0179, 0.007], [-0.0179, 0.007], list(range(1600, 1651, 10)),
    [0.006, 0.003, 0.0, -0.003, -0.006, -0.009, -0.012, -0.015], C_W, C_H,
    [1629, 1626.7, 1623, 1618], ["1629", "1627", "1623", "1618"], [-18, 6, 14, 12], [-4, -4, -4, -4],
    "\u03b2 bands", "c", (-69, -16), -26, 14.5, legend=legend_c)

d_top = 0.004 + 0.008 * D_EXTRA / D_CORE
panel_d = spectral_panel(
    XD, CURVES_D, [1650, 1695], [-0.004, d_top], [-0.004, 0.004], list(range(1650, 1691, 10)),
    [-0.004, -0.002, 0.0, 0.002, 0.004], D_W, D_EXTRA + D_CORE,
    [1676.5, 1667.1, 1655.1], ["1676", "1667", "1656"], [0, 0, 0], [D_EXTRA - 4] * 3,
    "turns/\u03b2 bands", "d", (-58, -8), D_EXTRA - 40, 15, width_scale=0.8,
    manual_axis=(1695, -0.004, 0.004))

panel_e = spectral_panel(
    XE, CURVES_E, [1500, 1530], [-0.005, 0.003], [-0.005, 0.003], [1500, 1510, 1520, 1530],
    [-0.004, -0.002, 0.0, 0.002], D_W, E_H,
    [1517.1, 1516.05, 1515.0], ["1517", "1516", "1515"], [-12, 0, 13], [-5, -29, -5],
    "tyrosine vibration", "e", (-58, -8), -46, 15, width_scale=0.8)

row1 = alt.hconcat(panel_a, panel_b, spacing=44, bounds="flush")
col_de = alt.vconcat(panel_d, panel_e, spacing=C_H - (D_EXTRA + D_CORE) - E_H - 1,
                     bounds="flush").resolve_scale(color="independent")
row2 = alt.hconcat(panel_c, col_de, spacing=70, bounds="flush").resolve_scale(color="independent")

chart = alt.vconcat(row1, row2, spacing=ROW_GAP, bounds="full").resolve_scale(color="independent").properties(
    padding={"top": TOP_PAD, "left": 0, "right": 0, "bottom": 0}
).configure_view(stroke=None).configure_axis(
    labelFont=FONT, titleFont=FONT, labelColor="black", titleColor="black", domainColor=INK, tickColor=INK,
    domainWidth=1.5, tickWidth=1.5
).configure_text(font=FONT, color="black").configure_legend(labelFont=FONT)

chart.save("out.html", embed_options={"renderer": "svg", "actions": False})
